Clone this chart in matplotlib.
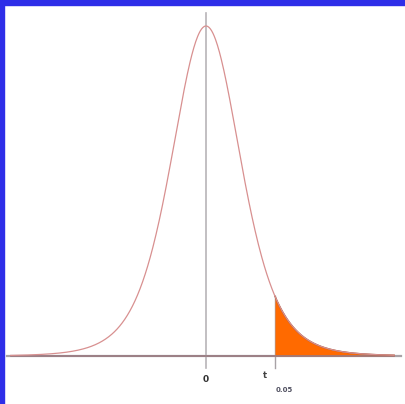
import math
import matplotlib
matplotlib.use('Agg')
import matplotlib.pyplot as plt
import numpy as np
from matplotlib.patches import Rectangle

# Student t density, upper 5% tail shaded
dof = 6
t_crit = 1.943
x_lo, x_hi = -5.5, 5.3
tick_labels = ['0', 't', '0.05']


def t_pdf(x, v):
    c = math.gamma((v + 1) / 2) / (math.sqrt(v * math.pi) * math.gamma(v / 2))
    return c * (1 + x ** 2 / v) ** (-(v + 1) / 2)


W, H = 406, 404
fig = plt.figure(figsize=(W / 100, H / 100), dpi=100)
fig.patch.set_facecolor('white')

# pixel layout of the plotting area
cx, base = 206, 48          # centre x, baseline height from bottom (px)
sx = 35.5                   # px per unit on x
peak = t_pdf(0, dof)
ky = peak / 330.0           # data units per px on y

ax = fig.add_axes([0, 0, 1, 1])
ax.set_xlim(-cx / sx, (W - cx) / sx)
ax.set_ylim(-base * ky, (H - base) * ky)
ax.axis('off')

x = np.linspace(x_lo, x_hi, 600)
y = t_pdf(x, dof)

# axis lines
ax.plot([x_lo - 0.1, x_hi + 0.2], [0, 0], color='#a8a2a6', lw=1.6, zorder=1)
ax.plot([0, 0], [-12 * ky, (H - 13 - base) * ky], color='#b8b4b8', lw=1.2, zorder=1)
ax.plot([t_crit, t_crit], [-12 * ky, t_pdf(t_crit, dof)], color='#a8a2a6', lw=1.0, zorder=1)

# shaded tail
xt = np.r_[t_crit, x[x >= t_crit]]
ax.fill_between(xt, 0, t_pdf(xt, dof), color='#ff6a00', lw=0, zorder=2)
ax.plot(xt, t_pdf(xt, dof), color='#a0502a', lw=1.0, zorder=3)

# density curve
ax.plot(x, y, color='#d89090', lw=0.9, zorder=3)
ax.plot([x_lo, x_hi], [0, 0], color='#9a7a80', lw=1.2, zorder=2)

# labels
ax.text(0, -24 * ky, tick_labels[0], ha='center', va='center', fontsize=6.5,
        fontweight='bold', color='#303030')
ax.text(t_crit - 10 / sx, -20 * ky, tick_labels[1], ha='center', va='center',
        fontsize=6, fontweight='bold', color='#404040')
ax.text(t_crit + 9 / sx, -34 * ky, tick_labels[2], ha='center', va='center',
        fontsize=5, fontweight='bold', color='#505060')

# blue frame on top and left
fig.patches.append(Rectangle((0, 1 - 5 / H), 1, 5 / H, transform=fig.transFigure,
                             color='#2e2ee8', zorder=10))
fig.patches.append(Rectangle((0, 0), 4 / W, 1, transform=fig.transFigure,
                             color='#2e2ee8', zorder=10))

fig.savefig('out.png', dpi=100)
plt.close('all')
